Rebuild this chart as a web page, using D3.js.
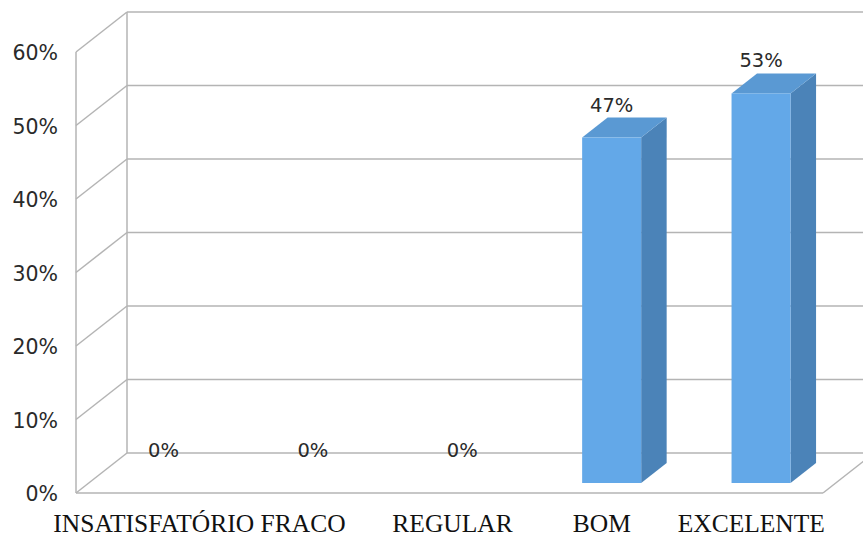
<!DOCTYPE html>
<html>
<head>
<meta charset="utf-8">
<script src="https://cdn.jsdelivr.net/npm/d3@7"></script>
<style>
  html, body { margin: 0; padding: 0; background: #fff; }
  svg { display: block; }
</style>
</head>
<body>
<svg id="chart" width="863" height="538"></svg>
<script>
// Avaliação — distribuição percentual por categoria
const categories = ["INSATISFATÓRIO", "FRACO", "REGULAR", "BOM", "EXCELENTE"];
const values = [0, 0, 0, 47, 53];
const valueLabels = ["0%", "0%", "0%", "47%", "53%"];
const yTicks = [0, 10, 20, 30, 40, 50, 60];
const yTickLabels = ["0%", "10%", "20%", "30%", "40%", "50%", "60%"];

const W = 863, H = 538;
const svg = d3.select("#chart");

// front plane of the 3D box
const x0 = 76, x1 = 823, yBottom = 493, yTop = 52;
// depth of the walls (oblique projection)
const DX = 51, DY = -40;
// bars occupy the middle half of the depth
const barFront = 0.25, barBack = 0.75;

const x = d3.scaleBand().domain(categories).range([x0, x1]).padding(0);
const y = d3.scaleLinear().domain([0, 60]).range([yBottom, yTop]);
const barW = x.bandwidth() * 0.395;

svg.append("defs").append("clipPath").attr("id", "plotclip")
  .append("rect").attr("x", 0).attr("y", 0).attr("width", W).attr("height", H);

const grid = svg.append("g").attr("clip-path", "url(#plotclip)")
  .attr("stroke", "#b4b4b4").attr("stroke-width", 1.5).attr("fill", "none");

// left wall: front edge, back edge and diagonal gridlines
grid.append("line").attr("x1", x0).attr("x2", x0).attr("y1", y(60)).attr("y2", y(0));
grid.append("line").attr("x1", x0 + DX).attr("x2", x0 + DX).attr("y1", y(60) + DY).attr("y2", y(0) + DY);
grid.selectAll("line.diag").data(yTicks).join("line").attr("class", "diag")
  .attr("x1", x0).attr("y1", d => y(d))
  .attr("x2", x0 + DX).attr("y2", d => y(d) + DY);

// back wall gridlines
grid.selectAll("line.back").data(yTicks).join("line").attr("class", "back")
  .attr("x1", x0 + DX).attr("y1", d => y(d) + DY)
  .attr("x2", x1 + DX + 20).attr("y2", d => y(d) + DY);

// floor: front edge and right edge
grid.append("line").attr("x1", x0).attr("x2", x1).attr("y1", y(0)).attr("y2", y(0));
grid.append("line").attr("x1", x1).attr("y1", y(0)).attr("x2", x1 + DX).attr("y2", y(0) + DY);

// bars
const fdx = DX * barFront, fdy = DY * barFront;
const ddx = DX * (barBack - barFront), ddy = DY * (barBack - barFront);
const bars = svg.append("g");
categories.forEach((c, i) => {
  const v = values[i];
  if (v <= 0) return;
  const bx = x(c) + (x.bandwidth() - barW) / 2 + fdx;
  const by0 = y(0) + fdy;
  const by1 = y(v) + fdy;
  const g = bars.append("g");
  // side face
  g.append("path").attr("fill", "#4b83b8")
    .attr("d", `M${bx + barW},${by1} L${bx + barW + ddx},${by1 + ddy} L${bx + barW + ddx},${by0 + ddy} L${bx + barW},${by0} Z`);
  // top face
  g.append("path").attr("fill", "#5a99d3")
    .attr("d", `M${bx},${by1} L${bx + ddx},${by1 + ddy} L${bx + barW + ddx},${by1 + ddy} L${bx + barW},${by1} Z`);
  // front face
  g.append("rect").attr("fill", "#63a8e8")
    .attr("x", bx).attr("y", by1).attr("width", barW).attr("height", by0 - by1);
});

// value labels
svg.append("g").selectAll("text").data(categories).join("text")
  .attr("x", (c) => x(c) + x.bandwidth() / 2 + fdx)
  .attr("y", (c, i) => y(values[i]) + fdy + ddy - 6)
  .attr("text-anchor", "middle")
  .attr("font-family", "'DejaVu Sans', sans-serif")
  .attr("font-size", 19.5)
  .attr("fill", "#2a2a2a")
  .text((c, i) => valueLabels[i]);

// y axis labels
const yAxis = d3.axisLeft(y).tickValues(yTicks).tickSize(0).tickPadding(0)
  .tickFormat((d, i) => yTickLabels[i]);
const ya = svg.append("g").attr("transform", `translate(58,1)`).call(yAxis);
ya.select(".domain").remove();
ya.selectAll("text")
  .attr("font-family", "'DejaVu Sans', sans-serif")
  .attr("font-size", 20.5)
  .attr("fill", "#2a2a2a");

// category labels
const xAxis = d3.axisBottom(x).tickSize(0).tickPadding(0);
const xa = svg.append("g").attr("transform", `translate(3,${532})`).call(xAxis);
xa.select(".domain").remove();
xa.selectAll("text")
  .attr("dy", 0)
  .attr("y", 0)
  .attr("font-family", "'Liberation Serif', 'Times New Roman', serif")
  .attr("font-size", 25.5)
  .attr("fill", "#111");
</script>
</body>
</html>
